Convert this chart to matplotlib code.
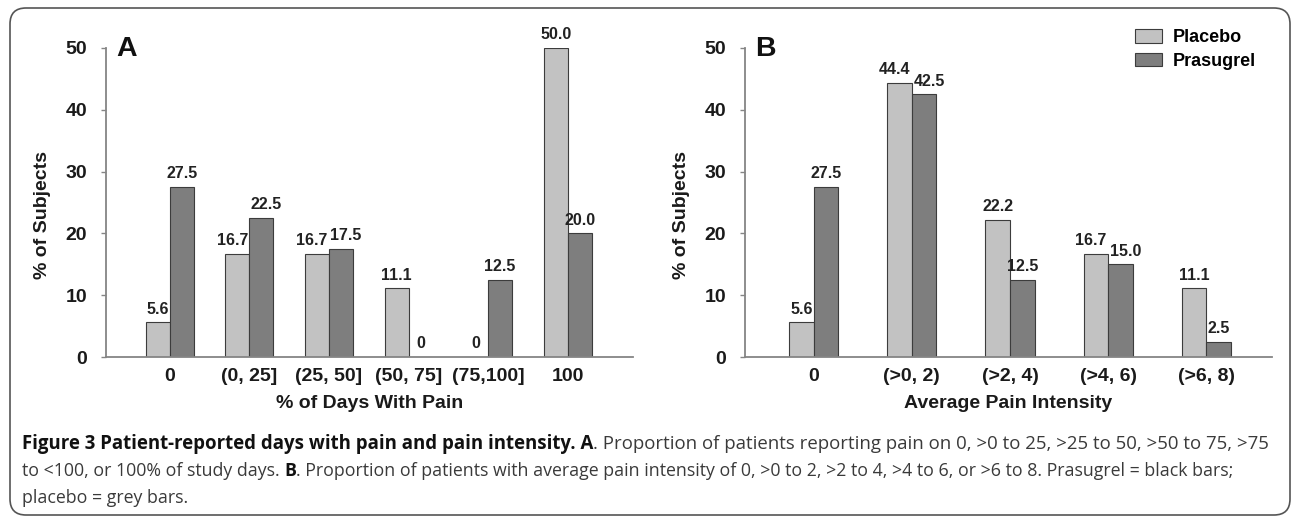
import matplotlib
matplotlib.use("Agg")
import matplotlib.pyplot as plt
import numpy as np
from matplotlib.patches import FancyBboxPatch, Patch
from matplotlib.transforms import IdentityTransform


days_categories = ["0", "(0, 25]", "(25, 50]", "(50, 75]", "(75,100]", "100"]
days_placebo = [5.6, 16.7, 16.7, 11.1, 0, 50.0]
days_prasugrel = [27.5, 22.5, 17.5, 0, 12.5, 20.0]

intensity_categories = ["0", "(>0, 2)", "(>2, 4)", "(>4, 6)", "(>6, 8)"]
intensity_placebo = [5.6, 44.4, 22.2, 16.7, 11.1]
intensity_prasugrel = [27.5, 42.5, 12.5, 15.0, 2.5]

y_ticks = [0, 10, 20, 30, 40, 50]
series_names = ["Placebo", "Prasugrel"]

caption_lines = [
    [("Figure 3 Patient-reported days with pain and pain intensity. A", "bold"),
     (". Proportion of patients reporting pain on 0, >0 to 25, >25 to 50, >50 to 75, >75", "normal")],
    [("to <100, or 100% of study days.", "normal"),
     (" B", "bold"),
     (". Proportion of patients with average pain intensity of 0, >0 to 2, >2 to 4, >4 to 6, "
      "or >6 to 8. Prasugrel = black bars;", "normal")],
    [("placebo = grey bars.", "normal")],
]
# pixel widths of the caption lines in the reference (last line follows the one before)
caption_targets = [1240, 1204, None]

W, H = 1292, 516
DPI = 100
LIGHT = "#c2c2c2"
DARK = "#7e7e7e"
EDGE = "#3c3c3c"
AXIS_GREY = "#858585"
CHART_FONT = ["Liberation Sans", "DejaVu Sans"]
CAPTION_FONT = ["Open Sans", "DejaVu Sans"]


def value_label(v):
    return "0" if v == 0 else f"{v:.1f}"


def plot_panel(ax, categories, placebo, prasugrel, width, xlim, letter, xlabel):
    x = np.arange(len(categories))
    ax.bar(x - width / 2, placebo, width, color=LIGHT, edgecolor=EDGE, linewidth=0.8)
    ax.bar(x + width / 2, prasugrel, width, color=DARK, edgecolor=EDGE, linewidth=0.8)

    for i in range(len(categories)):
        p, q = placebo[i], prasugrel[i]
        shift = 3.5 if abs(p - q) < 6 else 0
        ax.annotate(value_label(p), (x[i] - width / 2, p), xytext=(-shift, 4),
                    textcoords="offset points", ha="center", va="bottom",
                    fontsize=11.5, fontweight="bold", family=CHART_FONT, color="#222222")
        ax.annotate(value_label(q), (x[i] + width / 2, q), xytext=(shift, 4),
                    textcoords="offset points", ha="center", va="bottom",
                    fontsize=11.5, fontweight="bold", family=CHART_FONT, color="#222222")

    ax.set_xlim(*xlim)
    ax.set_ylim(0, 50)
    ax.set_yticks(y_ticks)
    ax.set_xticks(x)
    ax.set_xticklabels(categories)
    for lab in ax.get_xticklabels() + ax.get_yticklabels():
        lab.set_fontweight("bold")
        lab.set_family(CHART_FONT)
        lab.set_fontsize(14)
        lab.set_color("#1a1a1a")
    ax.tick_params(axis="x", length=0, pad=8)
    ax.tick_params(axis="y", direction="out", length=3.6, width=1.0, color=AXIS_GREY, pad=10)

    for side in ("top", "right"):
        ax.spines[side].set_visible(False)
    for side in ("left", "bottom"):
        ax.spines[side].set_color(AXIS_GREY)
        ax.spines[side].set_linewidth(1.3)

    ax.set_ylabel("% of Subjects", fontsize=14, fontweight="bold", family=CHART_FONT, color="#1a1a1a")
    ax.yaxis.set_label_coords(-0.105, 0.46)
    ax.set_xlabel(xlabel, fontsize=14, fontweight="bold", family=CHART_FONT, color="#1a1a1a")
    ax.xaxis.set_label_coords(0.5, -0.149)
    ax.xaxis.label.set_va("center")

    ax.text(0.019, 0.974, letter, transform=ax.transAxes, fontsize=20.5, fontweight="bold",
            family=CHART_FONT, va="baseline", ha="left", color="#111111")


def draw_caption(fig, lines, left_px, baselines_px, targets_px):
    renderer = fig.canvas.get_renderer()

    def measure(text, weight, size):
        t = fig.text(0, 0, text, fontsize=size, fontweight=weight, family=CAPTION_FONT)
        w = t.get_window_extent(renderer).width
        t.remove()
        return w

    def line_width(segments, size):
        total = 0
        for text, weight in segments:
            if text.startswith(" "):
                total += size * DPI / 72 * 0.26
            total += measure(text.strip(), weight, size)
        return total

    size = 11
    for segments, base, target in zip(lines, baselines_px, targets_px):
        if target is not None:
            size = 12 * target / line_width(segments, 12)
        xpos = left_px
        for text, weight in segments:
            if text.startswith(" "):
                xpos += size * DPI / 72 * 0.26
            color = "#111111" if weight == "bold" else "#3a3a3a"
            t = fig.text(xpos / W, 1 - base / H, text.strip(), fontsize=size, fontweight=weight,
                         family=CAPTION_FONT, va="baseline", ha="left", color=color)
            xpos += t.get_window_extent(renderer).width


fig = plt.figure(figsize=(W / DPI, H / DPI), dpi=DPI)
fig.patch.set_facecolor("white")

ax_a = fig.add_axes([106 / W, 159 / H, 527 / W, 309 / H])
plot_panel(ax_a, days_categories, days_placebo, days_prasugrel, 0.30, (-0.80, 5.82),
           "A", "% of Days With Pain")

ax_b = fig.add_axes([745 / W, 159 / H, 527 / W, 309 / H])
plot_panel(ax_b, intensity_categories, intensity_placebo, intensity_prasugrel, 0.25, (-0.70, 4.67),
           "B", "Average Pain Intensity")

handles = [Patch(facecolor=LIGHT, edgecolor=EDGE, linewidth=0.8),
           Patch(facecolor=DARK, edgecolor=EDGE, linewidth=0.8)]
fig.legend(handles, series_names, loc="upper left", bbox_to_anchor=(1135 / W, 1 - 29 / H),
           bbox_transform=fig.transFigure, frameon=False, borderpad=0, borderaxespad=0,
           handlelength=1.5, handleheight=0.8, handletextpad=0.6, labelspacing=0.35,
           prop={"family": CHART_FONT, "weight": "bold", "size": 13})

border = FancyBboxPatch((10, 1), 1280, 507, boxstyle="round,pad=0,rounding_size=16",
                        transform=IdentityTransform(), fill=False, edgecolor="#555555",
                        linewidth=1.2)
fig.add_artist(border)

draw_caption(fig, caption_lines, 22, [449, 476, 503], caption_targets)

fig.savefig("out.png", dpi=DPI, facecolor="white")
plt.close(fig)
